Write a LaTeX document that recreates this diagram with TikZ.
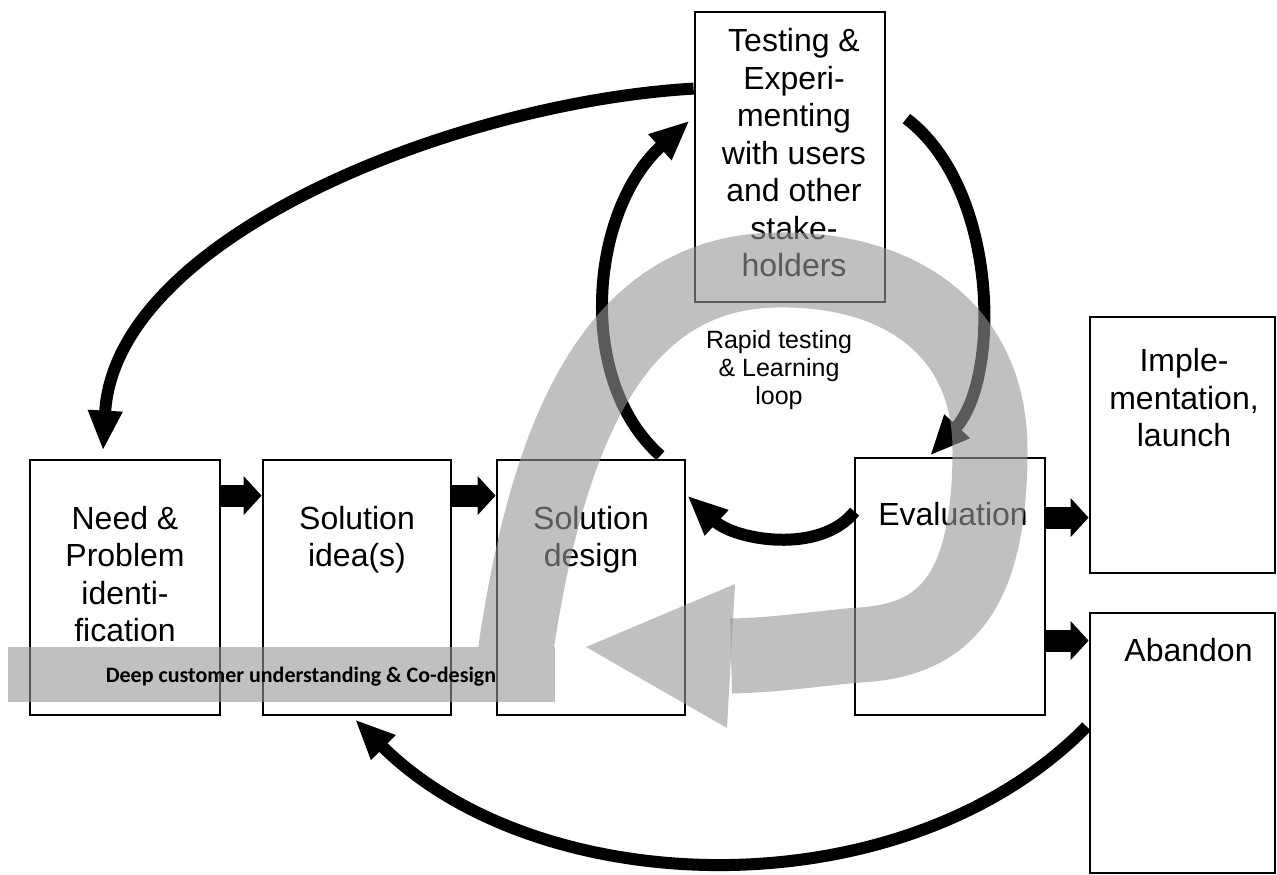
\documentclass[tikz,border=0pt]{standalone}
\usepackage{fontspec}
\setmainfont{Liberation Sans}
\newfontfamily\barfont{Carlito}
\usetikzlibrary{arrows.meta,calc}
\definecolor{bandgray}{gray}{0.59}
\newcommand\firstln{\rule{0pt}{26pt}}
\newcommand\firstsm{\rule{0pt}{20pt}}
\begin{document}
\begin{tikzpicture}[x=1pt,y=-1pt,
  box/.style={draw=black, line width=2.8pt, inner sep=0pt, minimum width=#1},
  txt/.style={font=\fontsize{32}{37.5}\selectfont, align=center, anchor=north, inner sep=0pt},
  smalltxt/.style={font=\fontsize{25}{28}\selectfont, align=center, anchor=north, inner sep=0pt},
  blockarrow/.style={line width=22pt, -{Triangle[length=18pt,width=38pt]}},
  curvearrow/.style={line width=12pt, -{Triangle[length=40pt,width=32pt]}},
  band/.style={draw=bandgray, draw opacity=0.6, line width=75pt},
  bandhead/.style={fill=bandgray, fill opacity=0.6},
  bar/.style={fill=bandgray, fill opacity=0.6, draw=none, inner sep=0pt, minimum width=547pt, minimum height=55pt},
  bartext/.style={font=\barfont\bfseries\fontsize{22}{26}\selectfont, anchor=base, inner sep=0pt}
]
\useasboundingbox (0,0) rectangle (1277,875);

% boxes
\node[box=190pt, minimum height=255pt] (need)   at (125,587.5) {};
\node[box=188pt, minimum height=255pt] (idea)   at (357,587.5) {};
\node[box=188pt, minimum height=255pt] (design) at (591,587.5) {};
\node[box=190pt, minimum height=257pt] (eval)   at (950,586.5) {};
\node[box=190pt, minimum height=290pt] (test)   at (790,157) {};
\node[box=185pt, minimum height=256pt] (impl)   at (1182.5,445) {};
\node[box=185pt, minimum height=260pt] (aband)  at (1182.5,743) {};

% texts
\node[txt] (needT)   at ($(need.north)+(0,44.5)$) {\firstln Need \&\\Problem\\identi-\\fication};
\node[txt] (ideaT)   at ($(idea.north)+(0,44.5)$) {\firstln Solution\\idea(s)};
\node[txt] (designT) at ($(design.north)+(0,44.5)$) {\firstln Solution\\design};
\node[txt] (evalT)   at ($(eval.north)+(3,43)$) {\firstln Evaluation};
\node[txt] (testT)   at ($(test.north)+(4,15)$) {\firstln Testing \&\\Experi-\\menting\\with users\\and other\\stake-\\holders};
\node[txt] (implT)   at ($(impl.north)+(1.5,30)$) {\firstln Imple-\\mentation,\\launch};
\node[txt] (abandT)  at ($(aband.north)+(6,24)$) {\firstln Abandon};
\node[smalltxt] (loopT) at ($(test.south)+(-11,25)$) {\firstsm Rapid testing\\\& Learning\\loop};

% block arrows
\draw[blockarrow] ($(need.north east)+(0,37)$) -- ($(idea.north west)+(0,37)$);
\draw[blockarrow] ($(idea.north east)+(0,37)$) -- ($(design.north west)+(0,37)$);
\draw[blockarrow] ($(eval.north east)+(0,61)$) -- ($(impl.north west)+(0,202)$);
\draw[blockarrow] ($(eval.north east)+(0,184)$) -- ($(aband.north west)+(0,29)$);

% curved arrows
\draw[curvearrow] ($(test.north west)+(0,78)$) .. controls (460,102) and (115,235) .. ($(need.north)+(-22,-8)$);
\draw[curvearrow] ($(design.north east)+(-26,-3)$) .. controls (575,380) and (590,210) .. ($(test.north west)+(-4,110)$);
\draw[curvearrow] ($(test.north east)+(20,108)$) .. controls (1000,190) and (1000,380) .. ($(eval.north)+(-20,-1)$);
\draw[curvearrow] ($(eval.north west)+(1,55)$) .. controls (820,555) and (735,540) .. ($(design.north east)+(1,37)$);
\draw[curvearrow] ($(aband.north west)+(-2,115)$) .. controls (903,913) and (540,903) .. ($(idea.south)+(-2,3)$);

% big gray arrow
\begin{scope}
  \clip (0,0) -- (1277,0) -- (1277,875) -- (560,875) -- (560,647) -- (0,647) -- cycle;
  \draw[band] (511,690) -- (516,648) .. controls (550,420) and (620,272) .. (777,270)
     .. controls (900,268) and (990,330) .. (990,450)
     .. controls (990,600) and (940,640) .. (860,645)
     .. controls (820,648) and (780,655) .. (731,656);
\end{scope}
\fill[bandhead] (735,584) -- (586,647) -- (727,728) -- cycle;

% bar
\node[bar] (bar) at (281.5,674.5) {};
\node[bartext] (barT) at (301,682) {Deep customer understanding \& Co-design};
\end{tikzpicture}
\end{document}
